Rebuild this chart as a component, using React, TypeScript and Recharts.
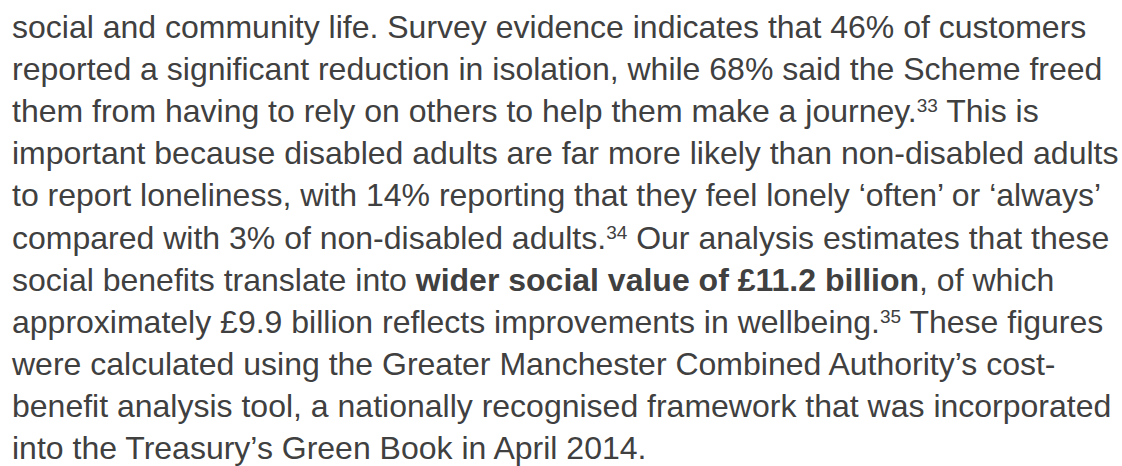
import React from "react";
import { Surface } from "recharts";

type Seg = { t: string; k?: "b" | "sup" };

const line1: Seg[] = [{ t: "social and community life. Survey evidence indicates that 46% of customers" }];
const line2: Seg[] = [{ t: "reported a significant reduction in isolation, while 68% said the Scheme freed" }];
const line3: Seg[] = [{ t: "them from having to rely on others to help them make a journey." }, { t: "33", k: "sup" }, { t: " This is" }];
const line4: Seg[] = [{ t: "important because disabled adults are far more likely than non-disabled adults" }];
const line5: Seg[] = [{ t: "to report loneliness, with 14% reporting that they feel lonely \u2018often\u2019 or \u2018always\u2019" }];
const line6: Seg[] = [{ t: "compared with 3% of non-disabled adults." }, { t: "34", k: "sup" }, { t: " Our analysis estimates that these" }];
const line7: Seg[] = [{ t: "social benefits translate into " }, { t: "wider social value of \u00a311.2 billion", k: "b" }, { t: ", of which" }];
const line8: Seg[] = [{ t: "approximately \u00a39.9 billion reflects improvements in wellbeing." }, { t: "35", k: "sup" }, { t: " These figures" }];
const line9: Seg[] = [{ t: "were calculated using the Greater Manchester Combined Authority\u2019s cost-" }];
const line10: Seg[] = [{ t: "benefit analysis tool, a nationally recognised framework that was incorporated" }];
const line11: Seg[] = [{ t: "into the Treasury\u2019s Green Book in April 2014." }];

const lines: Seg[][] = [line1, line2, line3, line4, line5, line6, line7, line8, line9, line10, line11];

const W = 1122;
const H = 466;
const FS = 32;
const LEFT = 12;
const FIRST = 38;
const STEP = 42.1;
const SUP = 19;
const RAISE = 10;

export default function App() {
  return (
    <div style={{ position: "fixed", left: 0, top: 0, width: W, height: H, background: "#fff" }}>
      <Surface width={W} height={H}>
        {lines.map((segs, i) => (
          <text
            key={i}
            x={LEFT}
            y={FIRST + i * STEP}
            fontFamily="'Liberation Sans', Arial, sans-serif"
            fontSize={FS}
            fill="#404040"
            style={{ whiteSpace: "pre" }}
          >
            {segs.map((s, j) => {
              if (s.k === "sup") {
                return (
                  <tspan key={j} fontSize={SUP} dy={-RAISE}>
                    {s.t}
                  </tspan>
                );
              }
              const prevSup = j > 0 && segs[j - 1].k === "sup";
              return (
                <tspan key={j} fontWeight={s.k === "b" ? "bold" : "normal"} dy={prevSup ? RAISE : 0}>
                  {s.t}
                </tspan>
              );
            })}
          </text>
        ))}
      </Surface>
    </div>
  );
}
